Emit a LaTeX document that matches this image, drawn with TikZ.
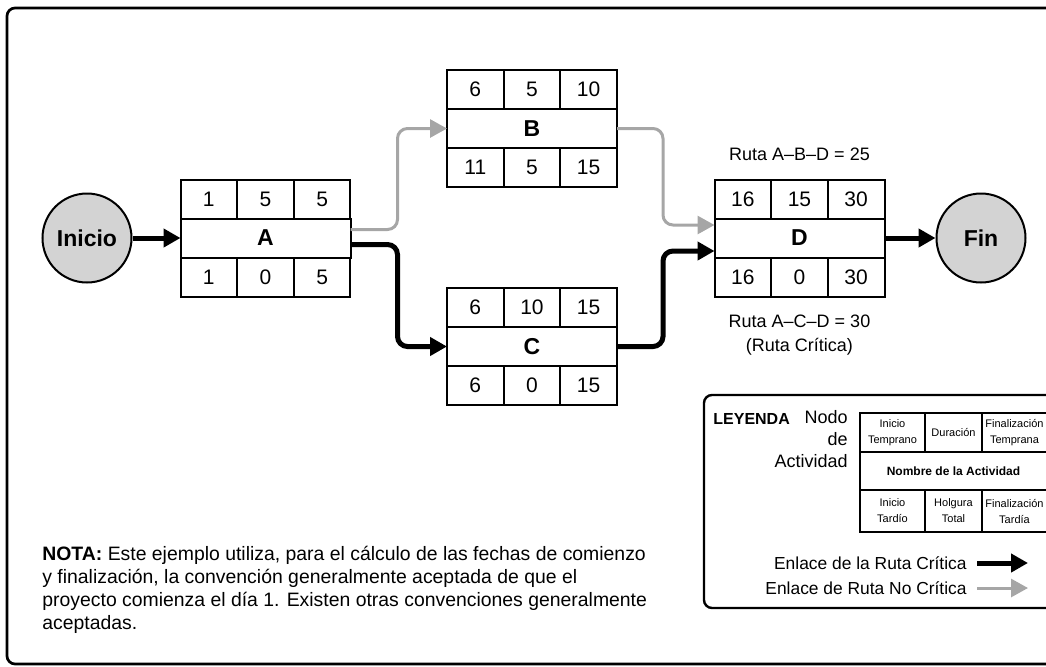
\documentclass[tikz,border=0pt]{standalone}
\usepackage{fontspec}
\setmainfont{Liberation Sans}
\usepackage{xcolor}
\usetikzlibrary{arrows.meta, positioning}

\definecolor{grisenlace}{RGB}{166,166,166}
\definecolor{grisevento}{RGB}{211,211,211}

% activity node: name, position, ES, duration, EF, LS, float, LF
\newcommand{\actividad}[8]{%
  \node[actname] (#1) at #2 {#1};
  \node[cell, above right=0pt and 0pt of #1.north west] (#1-it) {#3};
  \node[cell, right=0pt of #1-it] (#1-d) {#4};
  \node[cell, right=0pt of #1-d] (#1-ft) {#5};
  \node[cell, below right=0pt and 0pt of #1.south west] (#1-lt) {#6};
  \node[cell, right=0pt of #1-lt] (#1-h) {#7};
  \node[cell, right=0pt of #1-h] (#1-lf) {#8};
}

\begin{document}
\begin{tikzpicture}[
  x=0.5pt, y=-0.5pt,
  cell/.style={
    draw,
    line width=1pt,
    minimum width=28.333pt,
    minimum height=19.5pt,
    inner sep=0pt,
    outer sep=0pt,
    font=\fontsize{10.5}{12}\selectfont
  },
  actname/.style={
    cell,
    minimum width=85pt,
    font=\bfseries\fontsize{11.5}{12}\selectfont
  },
  evento/.style={
    circle,
    draw,
    line width=1pt,
    fill=grisevento,
    minimum size=44.5pt,
    inner sep=0pt,
    font=\bfseries\fontsize{11.5}{12}\selectfont
  },
  crit/.style={
    -{Triangle[length=8.5pt, width=9pt]},
    line width=2.5pt,
    rounded corners=5pt
  },
  nocrit/.style={
    -{Triangle[length=8.5pt, width=9pt]},
    line width=1.5pt,
    draw=grisenlace,
    rounded corners=5pt
  },
  ruta/.style={
    font=\fontsize{9}{12}\selectfont,
    align=center,
    inner sep=0pt
  },
  legcell/.style={
    draw,
    line width=1pt,
    minimum width=#1,
    minimum height=19.5pt,
    inner sep=0pt,
    outer sep=0pt,
    align=center,
    font=\fontsize{5.5}{8}\selectfont
  },
  legtext/.style={
    font=\fontsize{8.7}{11}\selectfont,
    inner sep=0pt
  }
]

\useasboundingbox (0,0) rectangle (1046,666);

% --- Frames ----------------------------------------------------------

\draw[line width=1.35pt, rounded corners=4pt] (7,8) rectangle (1070,664);
\draw[line width=1.2pt, rounded corners=4pt] (704,395) rectangle (1070,608);

% --- Events and activities -------------------------------------------

\node[evento] (inicio) at (87,238) {Inicio};
\node[evento] (fin) at (981,238) {Fin};

\actividad{A}{(265.5,238)}{1}{5}{5}{1}{0}{5}
\actividad{B}{(532,128.5)}{6}{5}{10}{11}{5}{15}
\actividad{C}{(532,346.5)}{6}{10}{15}{6}{0}{15}
\actividad{D}{(799.5,238)}{16}{15}{30}{16}{0}{30}

% --- Links -----------------------------------------------------------

\draw[crit] (inicio) -- (A);
\draw[nocrit] ([yshift=4.25pt]A.east) -- ++(47,0) |- (B.west);
\draw[crit] ([yshift=-3.25pt]A.east) -- ++(47,0) |- (C.west);
\draw[nocrit] (B.east) -- ++(46,0) |- ([yshift=6.5pt]D.west);
\draw[crit] (C.east) -- ++(46,0) |- ([yshift=-6.5pt]D.west);
\draw[crit] (D) -- (fin);

% --- Path totals -----------------------------------------------------

\node[ruta, above=9pt of D-d] (rabd) {Ruta A–B–D = 25};
\node[ruta, below=9pt of D-h] (racd) {Ruta A–C–D = 30\\(Ruta Crítica)};

% --- Legend ----------------------------------------------------------

\node[legtext, anchor=west, font=\bfseries\fontsize{8}{9}\selectfont]
  (leyenda) at (713,419) {LEYENDA};
\node[legtext, anchor=north east, align=right, font=\fontsize{9}{11}\selectfont]
  (nodoact) at (848,410) {Nodo\\de\\Actividad};

\node[legcell=93.5pt, minimum height=19pt, font=\bfseries\fontsize{6}{8}\selectfont]
  (nombre) at (953.5,471) {Nombre de la Actividad};
\node[legcell=32.5pt, above right=0pt and 0pt of nombre.north west] (l-it) {Inicio\\Temprano};
\node[legcell=28.5pt, right=0pt of l-it] (l-d) {Duración};
\node[legcell=32.5pt, right=0pt of l-d] (l-ft) {Finalización\\Temprana};
\node[legcell=32.5pt, minimum height=21pt, below right=0pt and 0pt of nombre.south west] (l-lt) {Inicio\\Tardío};
\node[legcell=28.5pt, minimum height=21pt, right=0pt of l-lt] (l-h) {Holgura\\Total};
\node[legcell=32.5pt, minimum height=21pt, right=0pt of l-h] (l-lf) {Finalización\\Tardía};

\node[legtext, anchor=east] (lcrit) at (967,563) {Enlace de la Ruta Crítica};
\node[legtext, anchor=east] (lnocrit) at (967,588) {Enlace de Ruta No Crítica};
\coordinate[right=5pt of lcrit.east] (lcrit-a);
\coordinate[right=5pt of lnocrit.east] (lnocrit-a);
\draw[crit] (lcrit-a) -- ++(51,0);
\draw[nocrit] (lnocrit-a) -- ++(51,0);

% --- Note ------------------------------------------------------------

\node[anchor=north west, align=left, inner sep=0pt, font=\fontsize{9.7}{11.5}\selectfont]
  (nota) at (42,546)
{\textbf{NOTA:} Este ejemplo utiliza, para el cálculo de las fechas de comienzo\\
y finalización, la convención generalmente aceptada de que el\\
proyecto comienza el día 1. Existen otras convenciones generalmente\\
aceptadas.};

\end{tikzpicture}
\end{document}
